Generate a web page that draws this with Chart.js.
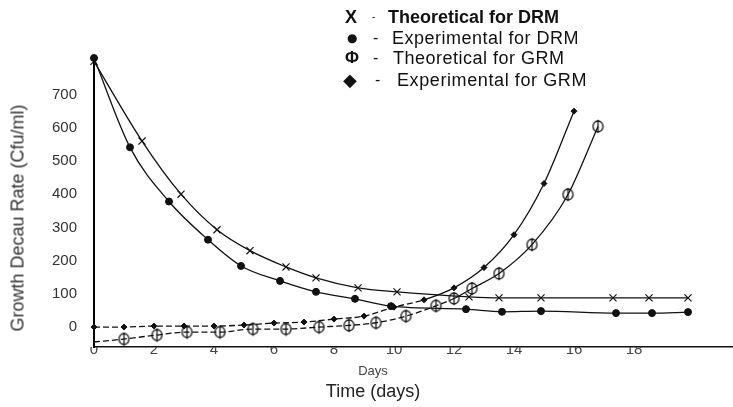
<!DOCTYPE html>
<html lang="en">
<head>
<meta charset="UTF-8" />
<title>Growth Decau Rate</title>
<script src="https://cdn.jsdelivr.net/npm/chart.js"></script>
<style>
  body { margin: 0; background: #fff; }
  #wrap { position: relative; width: 733px; height: 407px; font-family: "Liberation Sans", Arial, sans-serif; color: #111; }
  #wrap canvas { position: absolute; left: 0; top: 0; }
  .row { position: absolute; left: 0; height: 20px; line-height: 20px; white-space: nowrap; font-size: 18px; }
  .row span { position: absolute; top: 0; }
  .mk { font-weight: bold; }
  .dash { font-size: 16px; }
  .ytitle { position: absolute; left: 18px; top: 218px; transform: translate(-50%, -50%) rotate(-90deg);
            white-space: nowrap; font-size: 18px; color: #333; }
  .xtitle { position: absolute; transform: translate(-50%, -50%); white-space: nowrap; }
</style>
</head>
<body>
<div id="wrap">
  <canvas id="myChart" width="733" height="407"></canvas>

  <div class="row" style="top:7px">
    <span class="mk" style="left:345px;font-size:18px">X</span>
    <span class="dash" style="left:372px;font-size:10px">-</span>
    <span style="left:388px;font-weight:bold">Theoretical for DRM</span>
  </div>
  <div class="row" style="top:28px">
    <span class="mk" style="left:347px;font-size:12px;font-family:'DejaVu Sans'">●</span>
    <span class="dash" style="left:373px">-</span>
    <span style="left:392px;letter-spacing:0.5px">Experimental for DRM</span>
  </div>
  <div class="row" style="top:48px">
    <span class="mk" style="left:345px;font-size:17px">Φ</span>
    <span class="dash" style="left:373px">-</span>
    <span style="left:393px;letter-spacing:0.5px">Theoretical for GRM</span>
  </div>
  <div class="row" style="top:70px">
    <span class="mk" style="left:343px;font-size:18px;font-family:'DejaVu Sans'">◆</span>
    <span class="dash" style="left:375px">-</span>
    <span style="left:397px;letter-spacing:0.6px">Experimental for GRM</span>
  </div>

  <div class="ytitle">Growth Decau Rate (Cfu/ml)</div>
  <div class="xtitle" style="left:373px;top:370px;font-size:13px;color:#444">Days</div>
  <div class="xtitle" style="left:373px;top:391px;font-size:18px;color:#222">Time (days)</div>
</div>

<script>
// values (days, cfu/ml)
const drmTheoryDays   = [0, 1.6, 2.9, 4.1, 5.2, 6.4, 7.4, 8.8, 10.1, 12.5, 13.5, 14.9, 17.3, 18.5, 19.8];
const drmTheoryValues = [800, 560, 400, 293, 230, 181, 148, 118, 106, 91, 88, 88, 88, 88, 88];

const drmExpDays   = [0, 1.2, 2.5, 3.8, 4.9, 6.2, 7.4, 8.7, 9.9, 12.4, 13.6, 14.9, 17.4, 18.6, 19.8];
const drmExpValues = [810, 541, 378, 263, 184, 139, 106, 85, 63, 54, 46, 48, 42, 42, 45];

const grmTheoryDays   = [0, 1, 2.1, 3.1, 4.2, 5.3, 6.4, 7.5, 8.5, 9.4, 10.4, 11.4, 12.0, 12.6, 13.5, 14.6, 15.8, 16.8];
const grmTheoryValues = [-45, -36, -24, -15, -15, -6, -6, 0, 5, 13, 33, 64, 86, 116, 161, 248, 399, 604];

const grmExpDays   = [0, 1, 2, 3, 4, 5, 6, 7, 8, 9, 10, 11, 12, 13, 14, 15, 16];
const grmExpValues = [0, 0, 3, 3, 3, 6, 12, 15, 24, 33, 60, 82, 118, 179, 278, 432, 650];

const xTicks = [0, 2, 4, 6, 8, 10, 12, 14, 16, 18];
const yTicks = [0, 100, 200, 300, 400, 500, 600, 700];

function pairs(days, values) {
  return days.map((d, i) => ({ x: d, y: values[i] }));
}

// circle with a vertical bar, like the scanned marker
function phiMark() {
  const c = document.createElement('canvas');
  c.width = 13; c.height = 15;
  const g = c.getContext('2d');
  g.strokeStyle = '#111';
  g.lineWidth = 1.3;
  g.beginPath();
  g.ellipse(6.5, 7.5, 5, 5.5, 0, 0, Math.PI * 2);
  g.stroke();
  g.beginPath();
  g.moveTo(6.5, 0.8);
  g.lineTo(6.5, 14.2);
  g.stroke();
  return c;
}

const dashLow = { borderDash: ctx => ctx.p1.parsed.y < 100 ? [6, 3] : undefined };

const base = {
  borderColor: '#111',
  borderWidth: 1.3,
  pointBorderColor: '#111',
  pointBackgroundColor: '#111',
  cubicInterpolationMode: 'monotone',
  clip: false
};

new Chart(document.getElementById('myChart'), {
  type: 'line',
  data: {
    datasets: [
      Object.assign({}, base, {
        label: 'Theoretical for DRM',
        data: pairs(drmTheoryDays, drmTheoryValues),
        pointStyle: 'crossRot', pointRadius: 5, pointBorderWidth: 1.2
      }),
      Object.assign({}, base, {
        label: 'Experimental for DRM',
        data: pairs(drmExpDays, drmExpValues),
        pointStyle: 'circle', pointRadius: 3.5, pointBorderWidth: 1
      }),
      Object.assign({}, base, {
        label: 'Theoretical for GRM',
        data: pairs(grmTheoryDays, grmTheoryValues),
        pointStyle: phiMark(),
        pointRadius: ctx => ctx.dataIndex === 0 ? 0 : 5,
        segment: dashLow
      }),
      Object.assign({}, base, {
        label: 'Experimental for GRM',
        data: pairs(grmExpDays, grmExpValues),
        pointStyle: 'rectRot', pointRadius: 3, pointBorderWidth: 1,
        segment: dashLow
      })
    ]
  },
  options: {
    responsive: false,
    animation: false,
    layout: { autoPadding: false, padding: { top: 58, right: 0, bottom: 0, left: 0 } },
    plugins: { legend: { display: false }, tooltip: { enabled: false } },
    scales: {
      x: {
        type: 'linear',
        min: 0,
        max: 21.3,
        grid: { display: false },
        border: { color: '#111', width: 1.5 },
        ticks: { padding: -14, color: '#444', font: { family: 'Liberation Sans', size: 15 } },
        afterBuildTicks: s => { s.ticks = xTicks.map(v => ({ value: v })); },
        afterFit: s => { s.height = 60; }
      },
      y: {
        min: -60,
        max: 810,
        grid: { display: false },
        border: { color: '#000', width: 2 },
        ticks: { padding: 9, color: '#333', font: { family: 'Liberation Sans', size: 15 } },
        afterBuildTicks: s => { s.ticks = yTicks.map(v => ({ value: v })); },
        afterFit: s => { s.width = 94; }
      }
    }
  }
});
</script>
</body>
</html>
